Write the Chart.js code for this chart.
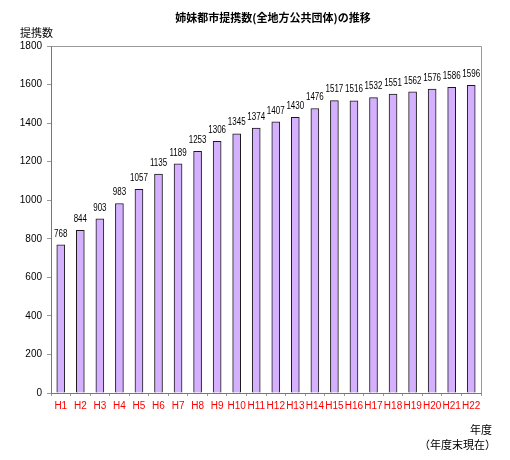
<!DOCTYPE html>
<html><head><meta charset="utf-8">
<script src="https://cdn.jsdelivr.net/npm/chart.js@4"></script>
<style>
body{margin:0;background:#fff;}
#wrap{position:relative;width:510px;height:460px;}
canvas{position:absolute;left:0;top:0;}
.t{position:absolute;font-family:"Noto Sans CJK JP","Liberation Sans",sans-serif;color:#000;white-space:nowrap;}
</style></head><body>
<div id="wrap">
<canvas id="c" width="510" height="460"></canvas>
<div class="t" style="left:0;width:546px;top:9px;text-align:center;font-size:11px;font-weight:bold;">姉妹都市提携数(全地方公共団体)の推移</div>
<div class="t" style="left:20px;top:24px;font-size:11px;">提携数</div>
<div class="t" style="left:470px;top:421px;font-size:11px;">年度</div>
<div class="t" style="left:419px;top:436px;font-size:11px;">（年度末現在）</div>
</div>
<script>
const categories = ["H1","H2","H3","H4","H5","H6","H7","H8","H9","H10","H11","H12","H13","H14","H15","H16","H17","H18","H19","H20","H21","H22"];
const values = [768,844,903,983,1057,1135,1189,1253,1306,1345,1374,1407,1430,1476,1517,1516,1532,1551,1562,1576,1586,1596];
const yTicks = [0,200,400,600,800,1000,1200,1400,1600,1800];

const frame = {
  id:'frame',
  afterDraw(chart){
    const {ctx, chartArea:a} = chart;
    ctx.save();
    ctx.strokeStyle='#999';
    ctx.lineWidth=1;
    ctx.beginPath();
    ctx.moveTo(a.left+0.5,a.top+0.5);
    ctx.lineTo(a.right+0.5,a.top+0.5);
    ctx.lineTo(a.right+0.5,a.bottom+0.5);
    ctx.stroke();
    // data labels (condensed digits)
    ctx.fillStyle='#000';
    ctx.font='10px "Liberation Sans", sans-serif';
    ctx.textAlign='center';
    ctx.textBaseline='bottom';
    const meta = chart.getDatasetMeta(0);
    meta.data.forEach((b,i)=>{
      ctx.save();
      ctx.translate(b.x, b.y-6);
      ctx.scale(0.8,1);
      ctx.fillText(String(values[i]), 0, 0);
      ctx.restore();
    });
    ctx.restore();
  }
};

new Chart(document.getElementById('c'),{
  type:'bar',
  data:{labels:categories,datasets:[{data:values,backgroundColor:'#D4B0FF',borderColor:'#1a1a1a',borderWidth:1,barThickness:8,borderSkipped:'bottom'}]},
  options:{
    responsive:false,animation:false,
    layout:{padding:{left:0,right:29,top:46,bottom:0}},
    plugins:{legend:{display:false},tooltip:{enabled:false},title:{display:false}},
    scales:{
      x:{
        offset:true,
        grid:{display:true,drawOnChartArea:false,offset:true,tickLength:3,color:'#999'},
        border:{color:'#777'},
        ticks:{color:'#ff0000',font:{family:'"Liberation Sans", sans-serif',size:10},padding:4,maxRotation:0,autoSkip:false},
        afterFit(s){s.height=67;}
      },
      y:{
        min:0,max:1800,
        afterBuildTicks(s){s.ticks=yTicks.map(v=>({value:v}));},
        grid:{display:true,drawOnChartArea:false,tickLength:4,color:'#999'},
        border:{color:'#777'},
        ticks:{color:'#000',font:{family:'"Liberation Sans", sans-serif',size:10},padding:5,callback:v=>String(v)},
        afterFit(s){s.width=51;}
      }
    }
  },
  plugins:[frame]
});
</script>
</body></html>
